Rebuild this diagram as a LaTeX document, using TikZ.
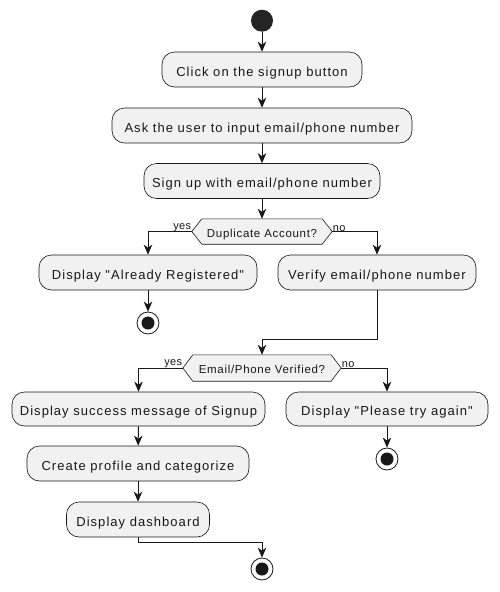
\documentclass[tikz,border=0pt]{standalone}
\usepackage{fontspec}
\setmainfont{Liberation Sans}
\usetikzlibrary{arrows.meta,calc}
\definecolor{ln}{HTML}{181818}
\definecolor{bx}{HTML}{F1F1F1}
\newfontfamily\actfont[LetterSpace=8]{Liberation Sans}
\newfontfamily\decfont[LetterSpace=6]{Liberation Sans}
\newfontfamily\lblfont[LetterSpace=3]{Liberation Sans}
\tikzset{
  act/.style={draw=ln, line width=0.6pt, fill=bx, rounded corners=12.5pt,
    minimum height=35pt, inner sep=0pt, text=ln, text height=13pt, text depth=0pt,
    font=\actfont\fontsize{13}{15}\selectfont},
  dec/.style={inner sep=0pt, minimum height=25pt, text=ln,
    font=\decfont\fontsize{11.5}{13}\selectfont},
  dectext/.style={dec, text height=11pt, text depth=0pt},
  hexa/.style={draw=ln, line width=0.6pt, fill=bx},
  lbl/.style={inner sep=0.5pt, text=ln, font=\lblfont\fontsize{11}{12}\selectfont},
  conn/.style={draw=ln, line width=1pt, -{Stealth[length=10pt,width=8.5pt,inset=3pt]}},
  startnode/.style={circle, fill=ln!95!white, minimum size=22pt, inner sep=0pt},
  endnode/.style={circle, draw=ln, line width=0.8pt, fill=white, minimum size=22pt, inner sep=0pt},
}
\newcommand{\hexdraw}[2]{%
  \draw[hexa] (#1.west) -- ([xshift=#2]#1.north west) -- ([xshift=-#2]#1.north east)
    -- (#1.east) -- ([xshift=-#2]#1.south east) -- ([xshift=#2]#1.south west) -- cycle;}
\begin{document}
\begin{tikzpicture}[x=1pt,y=-1pt]
\fill[white] (0,0) rectangle (500,592);
\useasboundingbox (0,0) rectangle (500,592);

\node[startnode] (start) at (262,20.7) {};
\node[act, minimum width=200pt] (b1) at (262,69.5) {Click on the signup button};
\node[act, minimum width=300pt] (b2) at (262,125.5) {Ask the user to input email/phone number};
\node[act, minimum width=236pt] (b3) at (262,181) {Sign up with email/phone number};

\node[dec, minimum width=140pt] (d1) at (262,231.5) {};
\hexdraw{d1}{10pt}
\node[dectext] (d1t) at (d1.center) {Duplicate Account?};

\node[act, minimum width=218pt] (b4) at (148,272.5) {Display "Already Registered"};
\node[act, minimum width=198pt] (b5) at (377,272.5) {Verify email/phone number};
\node[endnode] (e1) at (148,323) {};
\fill[ln] (e1.center) circle (6.5pt);

\node[dec, minimum width=158pt, minimum height=26pt] (d2) at (262,368) {};
\hexdraw{d2}{10pt}
\node[dectext] (d2t) at (d2.center) {Email/Phone Verified?};

\node[act, minimum width=253pt, minimum height=34pt] (b6) at (138.5,409) {Display success message of Signup};
\node[act, minimum width=202pt, minimum height=34pt] (b7) at (387,409) {Display "Please try again"};
\node[endnode] (e2) at (387,459) {};
\fill[ln] (e2.center) circle (6.5pt);
\node[act, minimum width=222pt] (b8) at (138,463.5) {Create profile and categorize};
\node[act, minimum width=143pt] (b9) at (138,519.5) {Display dashboard};
\node[endnode] (e3) at (262,569) {};
\fill[ln] (e3.center) circle (6.5pt);

\coordinate (m1) at (262,339);
\coordinate (m2) at (262,542);

\draw[conn] (start) -- (b1);
\draw[conn] (b1) -- (b2);
\draw[conn] (b2) -- (b3);
\draw[conn] (b3) -- (d1);
\draw[conn] (d1.west) -| (b4.north);
\draw[conn] (d1.east) -| (b5.north);
\node[lbl, anchor=south east] (y1) at ([yshift=-0.5pt]d1.west) {yes};
\node[lbl, anchor=south west] (n1) at ([yshift=-0.5pt]d1.east) {no};
\draw[conn] (b4) -- (e1);
\draw[conn] (b5.south) |- (m1) -- (d2.north);
\draw[conn] (d2.west) -| (b6.north);
\draw[conn] (d2.east) -| (b7.north);
\node[lbl, anchor=south east] (y2) at ([yshift=-0.5pt]d2.west) {yes};
\node[lbl, anchor=south west] (n2) at ([yshift=-0.5pt]d2.east) {no};
\draw[conn] (b7) -- (e2);
\draw[conn] (b6) -- (b8);
\draw[conn] (b8) -- (b9);
\draw[conn] (b9.south) |- (m2) -- (e3);
\end{tikzpicture}
\end{document}
